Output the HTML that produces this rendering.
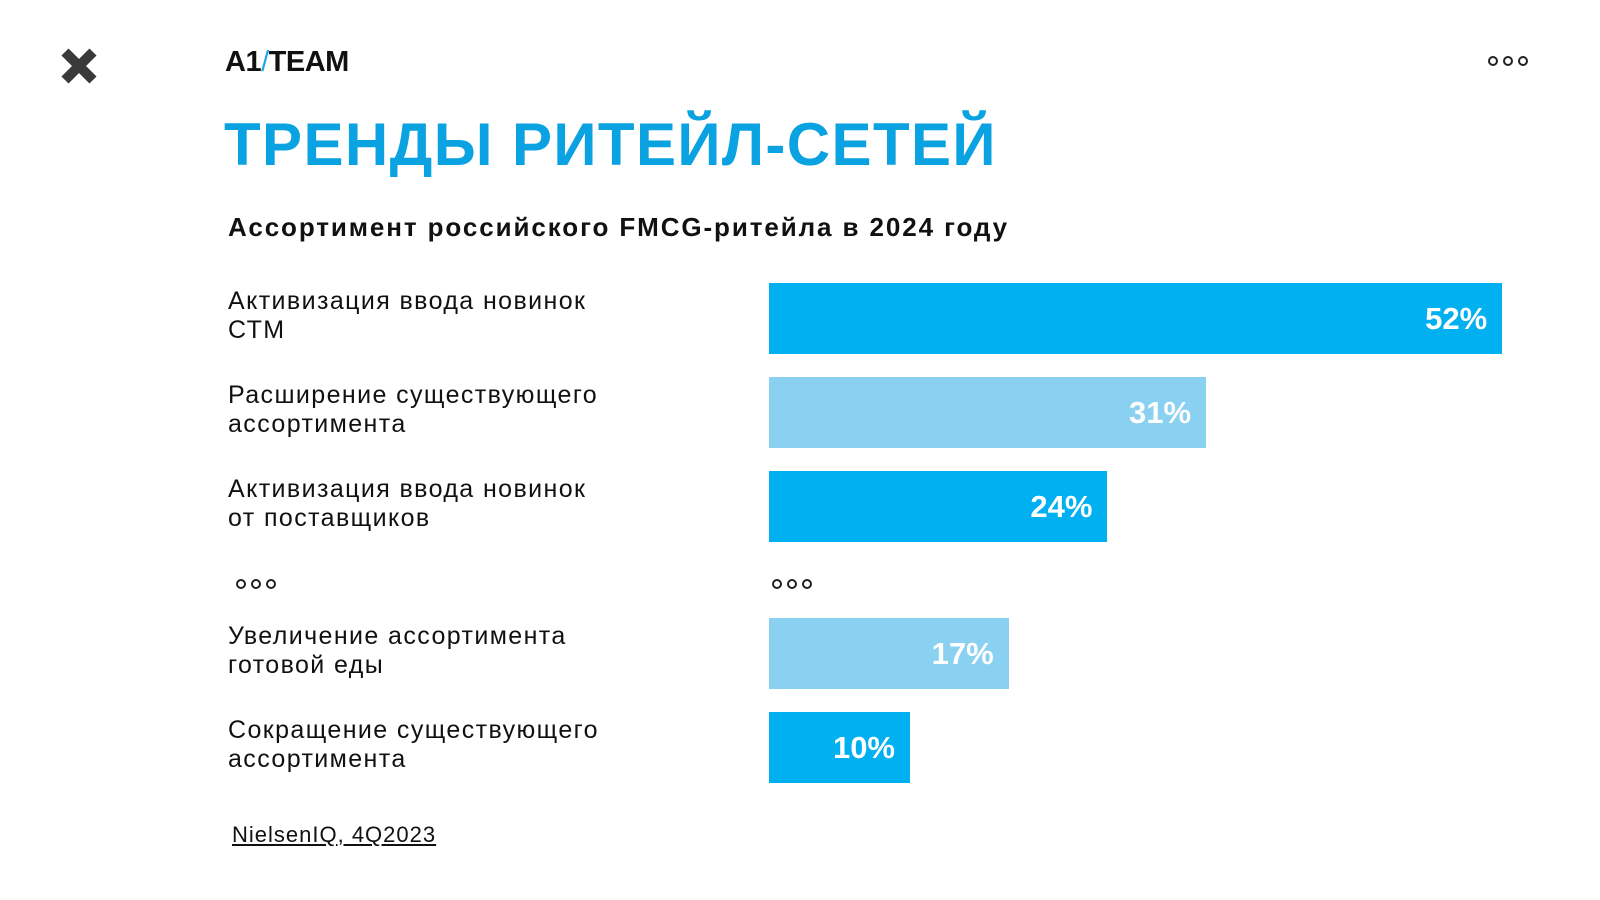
<!DOCTYPE html>
<html><head><meta charset="utf-8">
<style>
body{margin:0;width:1600px;height:900px;background:#fff;font-family:"Liberation Sans",sans-serif;position:relative;overflow:hidden}
.abs{position:absolute}
.lbl{position:absolute;left:228px;font-size:25px;line-height:29px;color:#111;letter-spacing:1.4px}
.dots{position:absolute;display:flex;gap:5px}
.dots span{width:6px;height:6px;border:2px solid #222;border-radius:50%}
.bar{position:absolute;height:71px;display:flex;align-items:center;justify-content:flex-end;box-sizing:border-box;padding-right:15px;color:#fff;font-weight:bold;font-size:31px}
</style></head><body>
<svg class="abs" style="left:60px;top:47px" width="38" height="38" viewBox="0 0 38 38"><path d="M5 5L33 33M33 5L5 33" stroke="#3a3a3a" stroke-width="10"/></svg>
<div class="abs" style="left:225px;top:46px;font-weight:bold;font-size:29px;letter-spacing:-0.5px;color:#111">A1<span style="color:#1ea8e6;font-weight:normal">/</span>TEAM</div>
<div class="dots" style="left:1488px;top:56px"><span></span><span></span><span></span></div>
<div class="abs" style="left:224px;top:110px;font-size:60px;font-weight:bold;color:#0aa2e0;letter-spacing:1.4px">ТРЕНДЫ РИТЕЙЛ-СЕТЕЙ</div>
<div class="abs" style="left:228px;top:212px;font-size:26px;font-weight:bold;color:#111;letter-spacing:1.9px">Ассортимент российского FMCG-ритейла в 2024 году</div>
<div id="chart"></div>
<div class="dots" style="left:236px;top:579px"><span></span><span></span><span></span></div>
<div class="dots" style="left:772px;top:579px"><span></span><span></span><span></span></div>
<div class="abs" style="left:232px;top:822px;font-size:22px;text-decoration:underline;color:#111;letter-spacing:1px">NielsenIQ, 4Q2023</div>
<script>
const categories=["Активизация ввода новинок<br>СТМ","Расширение существующего<br>ассортимента","Активизация ввода новинок<br>от поставщиков","Увеличение ассортимента<br>готовой еды","Сокращение существующего<br>ассортимента"];
const values=[52,31,24,17,10];
const valueLabels=["52%","31%","24%","17%","10%"];
const rowTops=[283,377,471,618,712];
const colors=["#00b0f0","#8ad0f0","#00b0f0","#8ad0f0","#00b0f0"];
const x0=769, pxPer=14.1;
const c=document.getElementById('chart');
values.forEach((v,i)=>{
  const l=document.createElement('div');
  l.className='lbl';l.style.top=(rowTops[i]+4)+'px';l.innerHTML=categories[i];
  
  
  c.appendChild(l);
  const b=document.createElement('div');
  b.className='bar';b.style.left=x0+'px';b.style.top=rowTops[i]+'px';
  b.style.width=(v*pxPer)+'px';b.style.background=colors[i];b.textContent=valueLabels[i];
  
  
  c.appendChild(b);
});
</script>
</body></html>
